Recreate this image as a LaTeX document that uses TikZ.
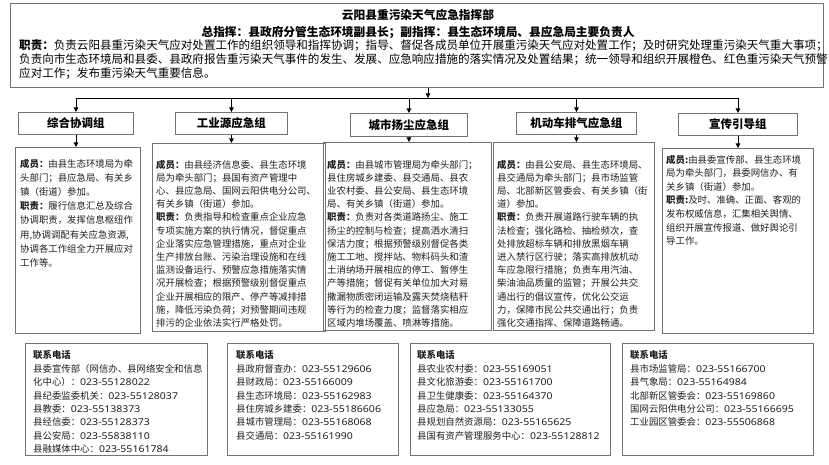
\documentclass[tikz,border=0pt]{standalone}
\usepackage{fontspec}
\setmainfont{Noto Sans CJK SC}
\newfontfamily\fonteNum[FakeStretch=1.12]{Noto Sans}
\usepackage{tikz}
\usetikzlibrary{arrows.meta}
\newcommand{\corBorda}{black!55}
\newcommand{\corTexto}{black!88}
\newcommand{\corSeta}{black}
\newcommand{\tel}[1]{{\fonteNum #1}}

\begin{document}
\begin{tikzpicture}[x=1pt,y=-1pt,
    caixa/.style={draw=\corBorda, line width=0.9pt, inner sep=0pt, anchor=north west},
    grupo/.style={caixa, minimum height=22pt, font=\fontsize{11.5}{13}\selectfont\bfseries},
    texto/.style={align=left, inner sep=0pt, anchor=north west, text=\corTexto, font=\fontsize{9.4}{#1}\selectfont},
    texto/.default=13.4,
    seta/.style={draw=\corSeta, line width=0.8pt, -{Triangle[length=4.5pt,width=4.5pt]}}]
    \useasboundingbox (0,0) rectangle (829,465);

      % comando 
    \node[caixa, minimum width=813pt, minimum height=84pt] (comando) at (10,3) {};
    \node[anchor=base, inner sep=0pt, font=\fontsize{11.7}{14}\selectfont\bfseries] (titulo) at (418,19.5) {云阳县重污染天气应急指挥部};
    \node[anchor=base, inner sep=0pt, font=\fontsize{11.7}{14}\selectfont\bfseries] (chefes) at (418,36.3) {总指挥：县政府分管生态环境副县长；副指挥：县生态环境局、县应急局主要负责人};
    \node[texto, text=black, font=\fontsize{11.55}{13.9}\selectfont] (funcao) at (19,39.7) {\textbf{职责：}负责云阳县重污染天气应对处置工作的组织领导和指挥协调；指导、督促各成员单位开展重污染天气应对处置工作；及时研究处理重污染天气重大事项；\\负责向市生态环境局和县委、县政府报告重污染天气事件的发生、发展、应急响应措施的落实情况及处置结果；统一领导和组织开展橙色、红色重污染天气预警\\应对工作；发布重污染天气重要信息。};

      % grupos 
    \node[grupo, minimum width=115pt] (g1) at (18,112) {综合协调组};
    \node[grupo, minimum width=112pt] (g2) at (175,112) {工业源应急组};
    \node[grupo, minimum width=117pt, minimum height=23pt] (g3) at (350,113) {城市扬尘应急组};
    \node[grupo, minimum width=120pt] (g4) at (516,112) {机动车排气应急组};
    \node[grupo, minimum width=119pt] (g5) at (678,113) {宣传引导组};

      % ligacoes 
    \coordinate (juncao) at (428,98);
    \draw[seta] (comando.south -| juncao) -- (juncao);
    \draw[draw=\corSeta, line width=0.8pt] (juncao -| g1.north) -- (juncao -| g5.north);
    \foreach \g in {g1,g2,g3,g4,g5}
        \draw[seta] (juncao -| \g.north) -- (\g.north);

      % membros 1 
    \node[caixa, minimum width=125pt, minimum height=186pt] (m1) at (15,147) {};
    \node[texto=14.2] (t1) at ([shift={(5pt,-11.7pt)}]m1.north west) {\textbf{成员：}由县生态环境局为牵\\头部门；县应急局、有关乡\\镇（街道）参加。\\\textbf{职责：}履行信息汇总及综合\\协调职责，发挥信息枢纽作\\用,协调调配有关应急资源,\\协调各工作组全力开展应对\\工作等。};

      % membros 2 
    \node[caixa, minimum width=173pt, minimum height=188pt] (m2) at (152,143) {};
    \node[texto=13.2] (t2) at ([shift={(4pt,-16.7pt)}]m2.north west) {\textbf{成员：}由县经济信息委、县生态环境\\局为牵头部门；县国有资产管理中\\心、县应急局、国网云阳供电分公司、\\有关乡镇（街道）参加。\\\textbf{职责：}负责指导和检查重点企业应急\\专项实施方案的执行情况，督促重点\\企业落实应急管理措施，重点对企业\\生产排放台账、污染治理设施和在线\\监测设备运行、预警应急措施落实情\\况开展检查；根据预警级别督促重点\\企业开展相应的限产、停产等减排措\\施，降低污染负荷；对预警期间违规\\排污的企业依法实行严格处罚。};

      % membros 3 
    \node[caixa, minimum width=168pt, minimum height=188pt] (m3) at (323,142) {};
    \node[texto=13.2] (t3) at ([shift={(4pt,-17.7pt)}]m3.north west) {\textbf{成员：}由县城市管理局为牵头部门；\\县住房城乡建委、县交通局、县农\\业农村委、县公安局、县生态环境\\局、有关乡镇（街道）参加。\\\textbf{职责：}负责对各类道路扬尘、施工\\扬尘的控制与检查；提高洒水清扫\\保洁力度；根据预警级别督促各类\\施工工地、搅拌站、物料码头和渣\\土消纳场开展相应的停工、暂停生\\产等措施；督促有关单位加大对易\\撒漏物质密闭运输及露天焚烧秸秆\\等行为的检查力度；监督落实相应\\区域内堆场覆盖、喷淋等措施。};

      % membros 4 
    \node[caixa, minimum width=161pt, minimum height=188pt] (m4) at (493,142) {};
    \node[texto=13.2] (t4) at ([shift={(4pt,-17.7pt)}]m4.north west) {\textbf{成员：}由县公安局、县生态环境局、\\县交通局为牵头部门；县市场监管\\局、北部新区管委会、有关乡镇（街\\道）参加。\\\textbf{职责：}负责开展道路行驶车辆的执\\法检查；强化路检、抽检频次，查\\处排放超标车辆和排放黑烟车辆\\进入禁行区行驶；落实高排放机动\\车应急限行措施；负责车用汽油、\\柴油油品质量的监管；开展公共交\\通出行的倡议宣传，优化公交运\\力，保障市民公共交通出行；负责\\强化交通指挥、保障道路畅通。};

      % membros 5 
    \node[caixa, minimum width=151pt, minimum height=185pt] (m5) at (662,148) {};
    \node[texto=13.6] (t5) at ([shift={(4pt,-6.7pt)}]m5.north west) {\textbf{成员:}由县委宣传部、县生态环境\\局为牵头部门，县委网信办、有\\关乡镇（街道）参加。\\\textbf{职责:}及时、准确、正面、客观的\\发布权威信息，汇集相关舆情、\\组织开展宣传报道、做好舆论引\\导工作。};

    \foreach \i in {1,...,5}
        \draw[seta] (g\i.south) -- (g\i.south |- m\i.north);

      % contatos 
    \node[caixa, minimum width=182pt, minimum height=112pt] (c1) at (25,343) {};
    \node[texto] (tc1) at ([shift={(8pt,-7.5pt)}]c1.north west) {\textbf{联系电话}\\县委宣传部（网信办、县网络安全和信息\\化中心）：\tel{023-55128022}\\县纪委监委机关：\tel{023-55128037}\\县教委：\tel{023-55138373}\\县经信委：\tel{023-55128373}\\县公安局：\tel{023-55838110}\\县融媒体中心：\tel{023-55161784}};

    \node[caixa, minimum width=171pt, minimum height=112pt] (c2) at (227,343) {};
    \node[texto] (tc2) at ([shift={(9pt,-7.5pt)}]c2.north west) {\textbf{联系电话}\\县政府督查办：\tel{023-55129606}\\县财政局：\tel{023-55166009}\\县生态环境局：\tel{023-55162983}\\县住房城乡建委：\tel{023-55186606}\\县城市管理局：\tel{023-55168068}\\县交通局：\tel{023-55161990}};

    \node[caixa, minimum width=200pt, minimum height=112pt] (c3) at (410,343) {};
    \node[texto] (tc3) at ([shift={(7pt,-7.5pt)}]c3.north west) {\textbf{联系电话}\\县农业农村委：\tel{023-55169051}\\县文化旅游委：\tel{023-55161700}\\县卫生健康委：\tel{023-55164370}\\县应急局：\tel{023-55133055}\\县规划自然资源局：\tel{023-55165625}\\县国有资产管理服务中心：\tel{023-55128812}};

    \node[caixa, minimum width=191pt, minimum height=112pt] (c4) at (622,343) {};
    \node[texto] (tc4) at ([shift={(8pt,-7.5pt)}]c4.north west) {\textbf{联系电话}\\县市场监管局：\tel{023-55166700}\\县气象局：\tel{023-55164984}\\北部新区管委会：\tel{023-55169860}\\国网云阳供电分公司：\tel{023-55166695}\\工业园区管委会：\tel{023-55506868}};
\end{tikzpicture}
\end{document}
